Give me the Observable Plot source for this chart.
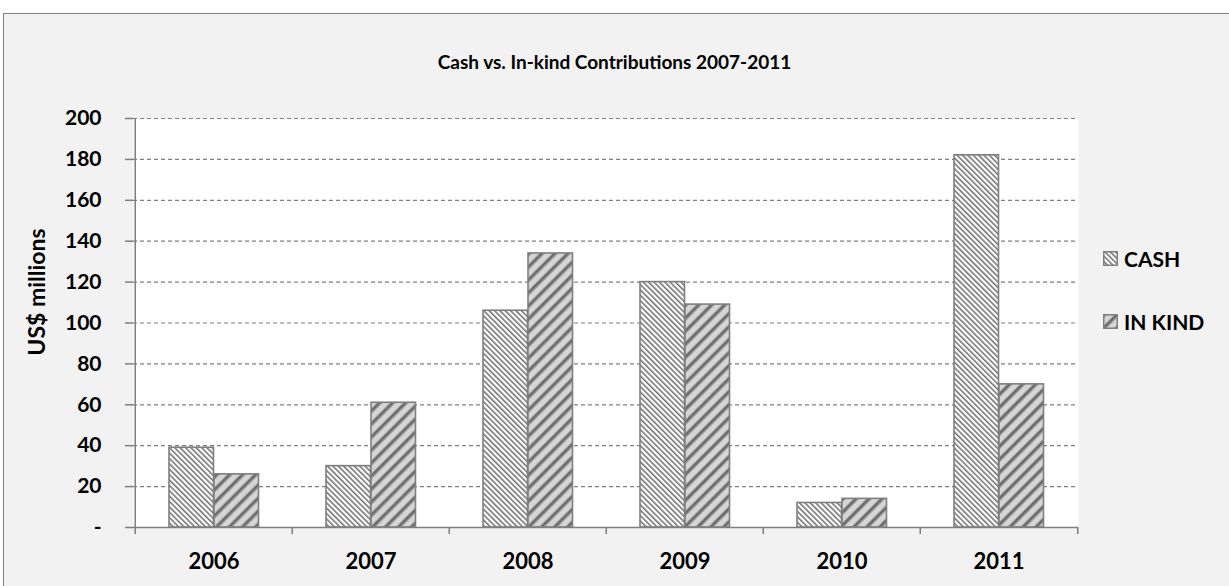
<!DOCTYPE html>
<html>
<head>
<meta charset="utf-8">
<script src="https://cdn.jsdelivr.net/npm/d3@7"></script>
<script src="https://cdn.jsdelivr.net/npm/@observablehq/plot@0.6"></script>
<style>
  html, body { margin: 0; padding: 0; background: #ffffff; width: 1229px; height: 586px; overflow: hidden; }
  #frame { position: absolute; left: 3px; top: 13px; width: 1240px; height: 590px; background: #f2f2f2; border: 1px solid #7f7f7f; box-sizing: border-box; }
  #chart { position: absolute; left: 0; top: 0; }
  .txt { position: absolute; font-family: Lato, "Open Sans", sans-serif; font-weight: bold; color: #000; white-space: nowrap; }
  #title { left: 0; width: 1229px; top: 50px; text-align: center; font-size: 19px; }
  #ylabel { left: 36px; top: 292px; font-size: 23px; transform: translate(-50%, -50%) rotate(-90deg); }
  .leg { position: absolute; left: 1103px; display: flex; align-items: center; font-family: Lato, sans-serif; font-weight: bold; font-size: 21px; }
  .leg svg { margin-right: 6px; }
</style>
</head>
<body>
<div id="frame"></div>
<div id="chart"></div>
<div id="title" class="txt">Cash vs. In-kind Contributions 2007-2011</div>
<div id="ylabel" class="txt">US$ millions</div>
<div id="legend"></div>
<script>
const years = ["2006", "2007", "2008", "2009", "2010", "2011"];
const cash = [39, 30, 106, 120, 12, 182];
const inKind = [26, 61, 134, 109, 14, 70];
const yTicks = [0, 20, 40, 60, 80, 100, 120, 140, 160, 180, 200];
const seriesNames = ["CASH", "IN KIND"];

const W = 1229, H = 586;
const mL = 133, mR = 151, mT = 118, mB = 59;
const bw = (W - mL - mR) / years.length;

const table = years.map((y, i) => ({year: y, cash: cash[i], inKind: inKind[i]}));
const gray = "#7f7f7f";
const font = "Lato, 'Open Sans', sans-serif";

const svg = Plot.plot({
  width: W, height: H,
  marginLeft: mL, marginRight: mR, marginTop: mT, marginBottom: mB,
  style: {background: "transparent", fontFamily: font, fontSize: "21px", fontWeight: "bold", color: "#000"},
  x: {domain: years, padding: 0, label: null},
  y: {domain: [0, 200], label: null},
  marks: [
    Plot.frame({fill: "white", stroke: null}),
    Plot.gridY(yTicks, {stroke: gray, strokeOpacity: 1, strokeDasharray: "4,3", strokeWidth: 1.2}),
    Plot.barY(table, {x: "year", y: "cash", fill: "url(#pat-cash)", stroke: gray, strokeWidth: 1.6,
      insetLeft: 34, insetRight: bw - 79}),
    Plot.barY(table, {x: "year", y: "inKind", fill: "url(#pat-inkind)", stroke: gray, strokeWidth: 1.6,
      insetLeft: 79, insetRight: bw - 124}),
    Plot.ruleY([0], {stroke: gray, strokeWidth: 1.5}),
    Plot.axisY(yTicks, {tickSize: 8, tickPadding: 24, stroke: gray, strokeWidth: 1.5,
      tickFormat: d => d === 0 ? "-" : String(d), fontSize: 21}),
    Plot.axisX(years, {tickSize: 7, dx: -bw / 2, stroke: gray, strokeWidth: 1.5, tickFormat: () => ""}),
    Plot.axisX([years[years.length - 1]], {tickSize: 7, dx: bw / 2, stroke: gray, strokeWidth: 1.5, tickFormat: () => ""}),
    Plot.axisX(years, {tickSize: 0, tickPadding: 26, fontSize: 22}),
    Plot.ruleX([years[0]], {dx: -bw / 2, y1: 0, y2: 200, stroke: gray, strokeWidth: 1.5})
  ]
});

// hatch patterns
const defs = d3.select(svg).insert("defs", ":first-child");
const p1 = defs.append("pattern").attr("id", "pat-cash").attr("patternUnits", "userSpaceOnUse")
  .attr("width", 3.8).attr("height", 3.8).attr("patternTransform", "rotate(-45)");
p1.append("rect").attr("width", 3.8).attr("height", 3.8).attr("fill", "#ffffff");
p1.append("rect").attr("width", 1.5).attr("height", 3.8).attr("fill", "#6e6e6e");
const p2 = defs.append("pattern").attr("id", "pat-inkind").attr("patternUnits", "userSpaceOnUse")
  .attr("width", 9.2).attr("height", 9.2).attr("patternTransform", "rotate(45)");
p2.append("rect").attr("width", 9.2).attr("height", 9.2).attr("fill", "#d6d6d6");
p2.append("rect").attr("width", 2.6).attr("height", 9.2).attr("fill", "#6a6a6a");
p2.append("rect").attr("x", 2.6).attr("width", 1).attr("height", 9.2).attr("fill", "#a8a8a8");
p2.append("rect").attr("x", 8.2).attr("width", 1).attr("height", 9.2).attr("fill", "#a8a8a8");

document.getElementById("chart").appendChild(svg);

// legend
const legend = document.getElementById("legend");
const legendItems = [
  {name: seriesNames[0], pat: "pat-cash", top: 246},
  {name: seriesNames[1], pat: "pat-inkind", top: 309}
];
for (const it of legendItems) {
  const div = document.createElement("div");
  div.className = "leg";
  div.style.top = it.top + "px";
  div.innerHTML = `<svg width="15" height="15"><rect x="0.75" y="0.75" width="13.5" height="13.5" fill="url(#${it.pat})" stroke="${gray}" stroke-width="1.5"/></svg><span>${it.name}</span>`;
  legend.appendChild(div);
}
</script>
</body>
</html>
